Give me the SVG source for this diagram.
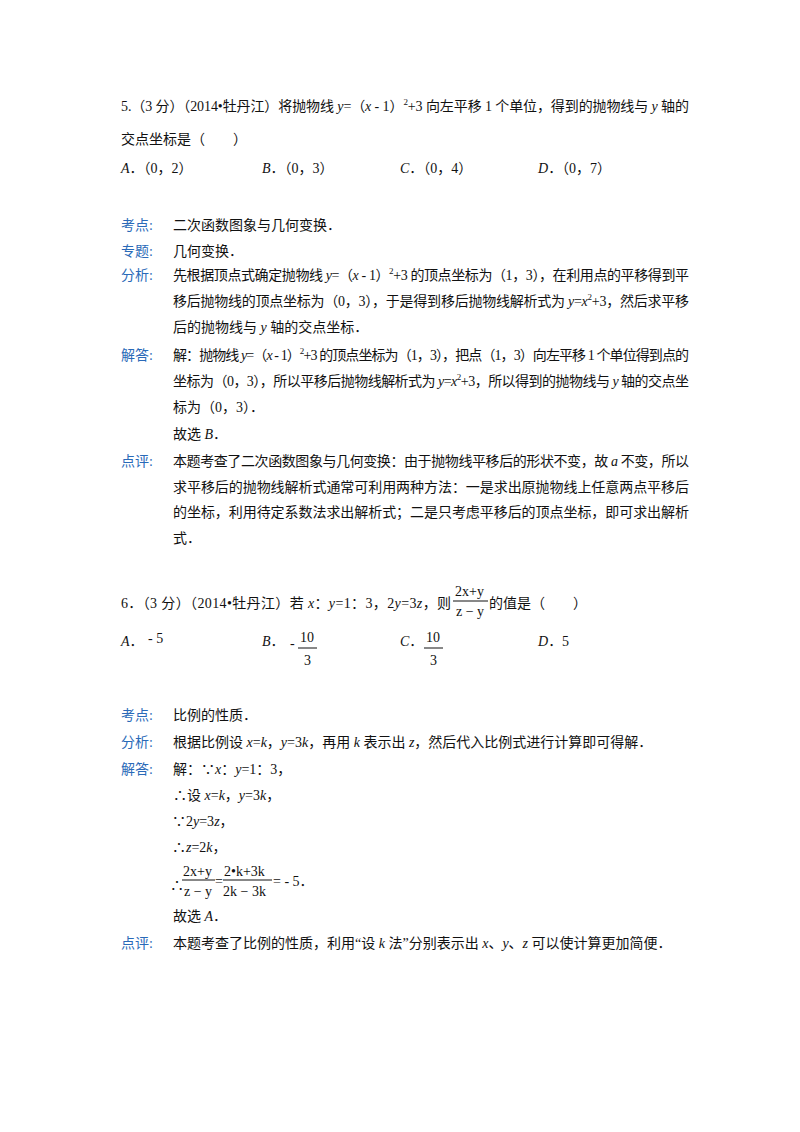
<svg xmlns="http://www.w3.org/2000/svg" width="800" height="1132" viewBox="0 0 800 1132">
<style>
text{font-family:"Liberation Serif","Noto Sans CJK SC",serif;font-size:14px;fill:#111}
.l{fill:#2a6ab8}
.i{font-style:italic}
.s{font-size:9px}
line{stroke:#111;stroke-width:1}
</style>
<rect width="800" height="1132" fill="#fff"/>
<g id="q5">
<text x="121" y="111" textLength="568" lengthAdjust="spacing">5.（3 分）（2014•牡丹江）将抛物线 <tspan class="i">y</tspan>=（<tspan class="i">x</tspan> - 1）<tspan class="s" dy="-6">2</tspan><tspan dy="6">+3 向左平移 1 个单位，得到的抛物线与 </tspan><tspan class="i">y</tspan> 轴的</text>
<text x="121" y="144">交点坐标是（　　）</text>
<text x="121" y="173"><tspan class="i">A</tspan>．（0，2）</text>
<text x="262" y="173"><tspan class="i">B</tspan>．（0，3）</text>
<text x="400" y="173"><tspan class="i">C</tspan>．（0，4）</text>
<text x="538" y="173"><tspan class="i">D</tspan>．（0，7）</text>
<text class="l" x="121" y="230">考点:</text><text x="173" y="230">二次函数图象与几何变换．</text>
<text class="l" x="121" y="256">专题:</text><text x="173" y="256">几何变换．</text>
<text class="l" x="121" y="280">分析:</text>
<text x="173" y="280" textLength="516" lengthAdjust="spacing">先根据顶点式确定抛物线 <tspan class="i">y</tspan>=（<tspan class="i">x</tspan> - 1）<tspan class="s" dy="-6">2</tspan><tspan dy="6">+3 的顶点坐标为（1，3），在利用点的平移得到平</tspan></text>
<text x="173" y="306" textLength="516" lengthAdjust="spacing">移后抛物线的顶点坐标为（0，3），于是得到移后抛物线解析式为 <tspan class="i">y</tspan>=<tspan class="i">x</tspan><tspan class="s" dy="-6">2</tspan><tspan dy="6">+3，然后求平移</tspan></text>
<text x="173" y="332">后的抛物线与 <tspan class="i">y</tspan> 轴的交点坐标．</text>
<text class="l" x="121" y="360">解答:</text>
<text x="173" y="360" textLength="516" lengthAdjust="spacing">解：抛物线 <tspan class="i">y</tspan>=（<tspan class="i">x</tspan> - 1）<tspan class="s" dy="-6">2</tspan><tspan dy="6">+3 的顶点坐标为（1，3），把点（1，3）向左平移 1 个单位得到点的</tspan></text>
<text x="173" y="386" textLength="516" lengthAdjust="spacing">坐标为（0，3），所以平移后抛物线解析式为 <tspan class="i">y</tspan>=<tspan class="i">x</tspan><tspan class="s" dy="-6">2</tspan><tspan dy="6">+3，所以得到的抛物线与 </tspan><tspan class="i">y</tspan> 轴的交点坐</text>
<text x="173" y="412">标为（0，3）．</text>
<text x="173" y="439">故选 <tspan class="i">B</tspan>．</text>
<text class="l" x="121" y="466">点评:</text>
<text x="173" y="466" textLength="516" lengthAdjust="spacing">本题考查了二次函数图象与几何变换：由于抛物线平移后的形状不变，故 <tspan class="i">a</tspan> 不变，所以</text>
<text x="173" y="492" textLength="516" lengthAdjust="spacing">求平移后的抛物线解析式通常可利用两种方法：一是求出原抛物线上任意两点平移后</text>
<text x="173" y="517" textLength="516" lengthAdjust="spacing">的坐标，利用待定系数法求出解析式；二是只考虑平移后的顶点坐标，即可求出解析</text>
<text x="173" y="543">式．</text>
</g>
<g id="q6">
<text x="121" y="608" textLength="330" lengthAdjust="spacing">6．（3 分）（2014•牡丹江）若 <tspan class="i">x</tspan>：<tspan class="i">y</tspan>=1：3，2<tspan class="i">y</tspan>=3<tspan class="i">z</tspan>，则</text>
<text x="455" y="596" font-size="13">2x+y</text><line x1="453" y1="601" x2="488" y2="601"/><text x="456" y="616" font-size="13">z − y</text>
<text x="489" y="608">的值是（　　）</text>
<text x="121" y="646"><tspan class="i">A</tspan>．</text><text x="148" y="643">- 5</text>
<text x="262" y="646"><tspan class="i">B</tspan>．</text><text x="290" y="648">-</text>
<text x="300" y="642">10</text><line x1="298" y1="648" x2="317" y2="648"/><text x="304" y="665">3</text>
<text x="400" y="646"><tspan class="i">C</tspan>．</text>
<text x="426" y="642">10</text><line x1="424" y1="648" x2="443" y2="648"/><text x="430" y="665">3</text>
<text x="538" y="646"><tspan class="i">D</tspan>．5</text>
<text class="l" x="121" y="720">考点:</text><text x="173" y="720">比例的性质．</text>
<text class="l" x="121" y="747">分析:</text><text x="173" y="747">根据比例设 <tspan class="i">x</tspan>=<tspan class="i">k</tspan>，<tspan class="i">y</tspan>=3<tspan class="i">k</tspan>，再用 <tspan class="i">k</tspan> 表示出 <tspan class="i">z</tspan>，然后代入比例式进行计算即可得解．</text>
<text class="l" x="121" y="774">解答:</text><text x="173" y="774">解：∵<tspan class="i">x</tspan>：<tspan class="i">y</tspan>=1：3，</text>
<text x="173" y="800">∴设 <tspan class="i">x</tspan>=<tspan class="i">k</tspan>，<tspan class="i">y</tspan>=3<tspan class="i">k</tspan>，</text>
<text x="172" y="826">∵2<tspan class="i">y</tspan>=3<tspan class="i">z</tspan>，</text>
<text x="172" y="852">∴<tspan class="i">z</tspan>=2<tspan class="i">k</tspan>，</text>
<text x="170" y="890">∴</text>
<text x="183" y="876" font-size="13">2x+y</text><line x1="182" y1="880" x2="215" y2="880"/><text x="184" y="896" font-size="13">z − y</text>
<text x="215" y="886">=</text>
<text x="224" y="876" font-size="13">2•k+3k</text><line x1="223" y1="880" x2="272" y2="880"/><text x="223" y="896" font-size="13">2k − 3k</text>
<text x="273" y="886">= - 5．</text>
<text x="173" y="921">故选 <tspan class="i">A</tspan>．</text>
<text class="l" x="121" y="948">点评:</text><text x="173" y="948">本题考查了比例的性质，利用“设 <tspan class="i">k</tspan> 法”分别表示出 <tspan class="i">x</tspan>、<tspan class="i">y</tspan>、<tspan class="i">z</tspan> 可以使计算更加简便．</text>
</g>
</svg>
